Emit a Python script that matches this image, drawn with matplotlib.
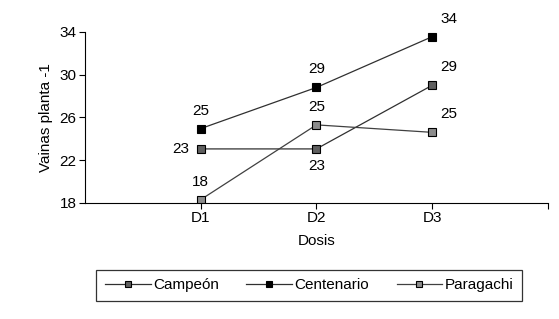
import matplotlib.pyplot as plt

plt.rcParams['font.family'] = ['Liberation Sans', 'DejaVu Sans']

dosis = ['D1', 'D2', 'D3']
campeon = [23.05, 23.05, 29.0]
centenario = [24.95, 28.8, 33.55]
paragachi = [18.3, 25.3, 24.6]

campeon_lbl = ['23', '23', '29']
centenario_lbl = ['25', '29', '34']
paragachi_lbl = ['18', '25', '25']

fig = plt.figure(figsize=(5.59, 3.19), dpi=100)
ax = fig.add_axes([0.152, 0.364, 0.828, 0.536])

x = [1, 2, 3]
ax.plot(x, campeon, color='#303030', lw=0.9, marker='s', ms=5.5,
        mfc='#5f5f5f', mec='black', mew=0.8, label='Campeón')
ax.plot(x, centenario, color='#303030', lw=0.9, marker='s', ms=5.5,
        mfc='black', mec='black', mew=0.8, label='Centenario')
ax.plot(x, paragachi, color='#404040', lw=0.9, marker='s', ms=5.5,
        mfc='#8c8c8c', mec='black', mew=0.8, label='Paragachi')

# data labels
fs = 11
offs_cent = [(0, 8), (0, 8), (6, 8)]
for xi, v, t, o in zip(x, centenario, centenario_lbl, offs_cent):
    ax.annotate(t, (xi, v), xytext=o, textcoords='offset points',
                ha='center' if o[0] == 0 else 'left', va='bottom', fontsize=fs)
offs_camp = [(-8, 0, 'right', 'center'), (0, -7, 'center', 'top'), (6, 8, 'left', 'bottom')]
for xi, v, t, o in zip(x, campeon, campeon_lbl, offs_camp):
    ax.annotate(t, (xi, v), xytext=o[:2], textcoords='offset points',
                ha=o[2], va=o[3], fontsize=fs)
offs_par = [(0, 8, 'center'), (0, 8, 'center'), (6, 8, 'left')]
for xi, v, t, o in zip(x, paragachi, paragachi_lbl, offs_par):
    ax.annotate(t, (xi, v), xytext=o[:2], textcoords='offset points',
                ha=o[2], va='bottom', fontsize=fs)

ax.set_xlim(0, 4)
ax.set_ylim(18, 34)
ax.set_yticks([18, 22, 26, 30, 34])
ax.set_xticks([1, 2, 3, 4])
ax.set_xticklabels(dosis + [''])
ax.tick_params(labelsize=fs, length=4, width=0.8, pad=2)
ax.spines['top'].set_visible(False)
ax.spines['right'].set_visible(False)
ax.spines['left'].set_linewidth(0.8)
ax.spines['bottom'].set_linewidth(0.8)

ax.set_xlabel('Dosis', fontsize=fs, labelpad=6)
ax.set_ylabel('Vainas planta -1', fontsize=fs, labelpad=5)

leg = fig.legend(loc='center', bbox_to_anchor=(0.553, 0.106), ncol=3,
                 fontsize=fs, frameon=True, fancybox=False, edgecolor='black',
                 handlelength=3.0, columnspacing=1.8, borderpad=0.55,
                 handletextpad=0.15, markerscale=0.8)
leg.get_frame().set_linewidth(0.9)

fig.savefig('out.png', dpi=100)
